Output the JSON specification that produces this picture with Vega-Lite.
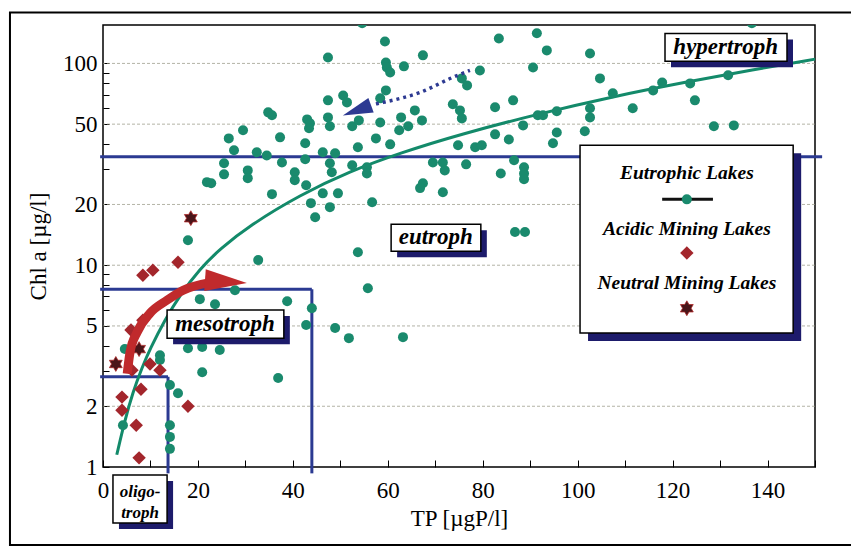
{
  "$schema": "https://vega.github.io/schema/vega-lite/v6.json",
  "width": 712,
  "height": 442,
  "autosize": {"type": "none"},
  "padding": {"left": 103, "top": 25, "right": 36, "bottom": 81},
  "background": "white",
  "config": {
    "view": {"stroke": "black", "strokeWidth": 1.5},
    "font": "Liberation Serif",
    "axis": {"domain": false, "grid": false, "labelFont": "Liberation Serif", "titleFont": "Liberation Serif", "labelColor": "black", "titleColor": "black", "titleFontWeight": "normal", "tickColor": "black", "labelOverlap": false, "labelFlush": false},
    "axisX": {"values": [0,10,20,30,40,50,60,70,80,90,100,110,120,130,140,150], "labelExpr": "datum.value % 20 == 0 && datum.value <= 140 ? datum.label : ''", "tickSize": -7, "labelFontSize": 23, "titleFontSize": 23, "labelPadding": 19, "titlePadding": 5},
    "axisY": {"values": [1,2,3,4,5,6,7,8,9,10,20,30,40,50,60,70,80,90,100], "format": "~g", "labelExpr": "indexof([1,2,5,10,20,50,100], datum.value) >= 0 ? datum.label : ''", "tickSize": -6, "labelFontSize": 23, "titleFontSize": 23, "labelPadding": 12, "titlePadding": 12}
  },
  "datasets": {
    "grid": [{"chl": 2}, {"chl": 5}, {"chl": 10}, {"chl": 20}, {"chl": 50}, {"chl": 100}],
    "outer": [{"tp": -19.6, "tp2": 162, "chl": 179, "chl2": 0.411}],
    "bluelines": [
      {"tp": -0.6, "tp2": 151.5, "chl": 34.5, "chl2": 34.5},
      {"tp": -0.6, "tp2": 44, "chl": 7.6, "chl2": 7.6},
      {"tp": 44, "tp2": 44, "chl": 0.93, "chl2": 7.6},
      {"tp": -0.6, "tp2": 13.7, "chl": 2.8, "chl2": 2.8},
      {"tp": 13.7, "tp2": 13.7, "chl": 0.93, "chl2": 2.8}
    ],
    "green": [
      {"tp": 34.8, "chl": 57.2}, {"tp": 35.6, "chl": 55.3}, {"tp": 29.5, "chl": 46.6}, {"tp": 26.5, "chl": 42.5},
      {"tp": 27.6, "chl": 37.1}, {"tp": 32.4, "chl": 36.3}, {"tp": 34.5, "chl": 35.0}, {"tp": 37.3, "chl": 43.0},
      {"tp": 25.5, "chl": 32.0}, {"tp": 25.5, "chl": 28.2}, {"tp": 30.5, "chl": 29.5}, {"tp": 30.5, "chl": 27.0},
      {"tp": 21.9, "chl": 25.8}, {"tp": 22.8, "chl": 25.5}, {"tp": 35.6, "chl": 22.5}, {"tp": 17.9, "chl": 13.3},
      {"tp": 54.6, "chl": 158}, {"tp": 59.4, "chl": 128.5}, {"tp": 47.4, "chl": 107}, {"tp": 67.4, "chl": 109.6},
      {"tp": 59.6, "chl": 101}, {"tp": 59.8, "chl": 95.5}, {"tp": 60.5, "chl": 90.2}, {"tp": 63.4, "chl": 96.7},
      {"tp": 47.4, "chl": 65.6}, {"tp": 50.6, "chl": 69.4}, {"tp": 51.4, "chl": 64.1}, {"tp": 59.6, "chl": 73.5},
      {"tp": 58.4, "chl": 67.1}, {"tp": 43.0, "chl": 52.8}, {"tp": 43.6, "chl": 50.5}, {"tp": 43.4, "chl": 47.7},
      {"tp": 47.4, "chl": 54.0}, {"tp": 47.8, "chl": 48.8}, {"tp": 52.5, "chl": 48.8}, {"tp": 53.9, "chl": 52.2},
      {"tp": 58.4, "chl": 51.0}, {"tp": 62.8, "chl": 54.0}, {"tp": 62.4, "chl": 46.6}, {"tp": 65.7, "chl": 58.5},
      {"tp": 64.3, "chl": 48.8}, {"tp": 67.2, "chl": 52.2}, {"tp": 73.7, "chl": 62.7}, {"tp": 42.6, "chl": 40.2},
      {"tp": 57.5, "chl": 42.5}, {"tp": 53.7, "chl": 38.4}, {"tp": 60.5, "chl": 39.7}, {"tp": 46.3, "chl": 36.3},
      {"tp": 48.9, "chl": 35.9}, {"tp": 37.7, "chl": 32.3}, {"tp": 42.6, "chl": 33.5}, {"tp": 47.8, "chl": 32.0},
      {"tp": 48.2, "chl": 28.9}, {"tp": 52.5, "chl": 31.3}, {"tp": 55.6, "chl": 30.6}, {"tp": 55.6, "chl": 28.5},
      {"tp": 69.5, "chl": 32.3}, {"tp": 71.6, "chl": 32.3}, {"tp": 72.0, "chl": 29.5}, {"tp": 40.4, "chl": 28.9},
      {"tp": 40.4, "chl": 26.4}, {"tp": 42.8, "chl": 24.9}, {"tp": 67.4, "chl": 25.5}, {"tp": 66.8, "chl": 24.1},
      {"tp": 71.6, "chl": 23.0}, {"tp": 46.3, "chl": 22.7}, {"tp": 49.5, "chl": 22.7}, {"tp": 43.8, "chl": 20.3},
      {"tp": 47.8, "chl": 19.4}, {"tp": 56.7, "chl": 20.5}, {"tp": 44.7, "chl": 17.3}, {"tp": 74.8, "chl": 39.3},
      {"tp": 83.4, "chl": 133}, {"tp": 91.4, "chl": 141}, {"tp": 93.5, "chl": 116}, {"tp": 102.6, "chl": 112},
      {"tp": 79.4, "chl": 92.3}, {"tp": 90.6, "chl": 95.5}, {"tp": 104.7, "chl": 84.3}, {"tp": 75.6, "chl": 84.3},
      {"tp": 76.7, "chl": 77.8}, {"tp": 82.6, "chl": 60.6}, {"tp": 86.4, "chl": 65.6}, {"tp": 75.2, "chl": 58.5},
      {"tp": 75.6, "chl": 53.4}, {"tp": 91.6, "chl": 55.3}, {"tp": 92.7, "chl": 55.3}, {"tp": 95.6, "chl": 57.9},
      {"tp": 102.6, "chl": 59.9}, {"tp": 102.6, "chl": 54.0}, {"tp": 107.4, "chl": 71.1}, {"tp": 111.6, "chl": 59.9},
      {"tp": 88.5, "chl": 49.3}, {"tp": 82.6, "chl": 44.5}, {"tp": 85.5, "chl": 42.0}, {"tp": 95.6, "chl": 45.5},
      {"tp": 94.8, "chl": 40.2}, {"tp": 101.5, "chl": 46.1}, {"tp": 78.4, "chl": 38.4}, {"tp": 79.8, "chl": 39.3},
      {"tp": 76.5, "chl": 31.6}, {"tp": 86.6, "chl": 33.1}, {"tp": 88.7, "chl": 30.6}, {"tp": 88.7, "chl": 28.5},
      {"tp": 88.7, "chl": 26.7}, {"tp": 83.8, "chl": 28.5}, {"tp": 86.8, "chl": 14.6}, {"tp": 88.9, "chl": 14.6},
      {"tp": 136.7, "chl": 158}, {"tp": 115.9, "chl": 73.5}, {"tp": 117.8, "chl": 80.5}, {"tp": 123.7, "chl": 79.6},
      {"tp": 131.7, "chl": 87.3}, {"tp": 124.7, "chl": 65.6}, {"tp": 128.7, "chl": 48.8}, {"tp": 132.9, "chl": 49.3},
      {"tp": 32.7, "chl": 10.6}, {"tp": 27.8, "chl": 7.52}, {"tp": 20.4, "chl": 6.79}, {"tp": 23.6, "chl": 6.41},
      {"tp": 17.9, "chl": 3.88}, {"tp": 20.9, "chl": 3.93}, {"tp": 24.6, "chl": 3.80}, {"tp": 4.6, "chl": 3.84},
      {"tp": 12.0, "chl": 3.58}, {"tp": 12.0, "chl": 3.39}, {"tp": 20.9, "chl": 2.95}, {"tp": 36.9, "chl": 2.76},
      {"tp": 14.1, "chl": 2.55}, {"tp": 15.8, "chl": 2.32}, {"tp": 4.2, "chl": 1.61}, {"tp": 14.1, "chl": 1.61},
      {"tp": 14.1, "chl": 1.41}, {"tp": 14.1, "chl": 1.23}, {"tp": 53.7, "chl": 11.6}, {"tp": 55.8, "chl": 7.69},
      {"tp": 38.8, "chl": 6.63}, {"tp": 44.0, "chl": 6.12}, {"tp": 42.8, "chl": 5.05}, {"tp": 48.9, "chl": 4.88},
      {"tp": 51.8, "chl": 4.35}, {"tp": 63.2, "chl": 4.40}
    ],
    "acidic": [
      {"tp": 8.4, "chl": 8.92}, {"tp": 10.5, "chl": 9.45}, {"tp": 15.8, "chl": 10.35}, {"tp": 8.4, "chl": 5.34},
      {"tp": 5.9, "chl": 4.77}, {"tp": 9.9, "chl": 3.24}, {"tp": 12.0, "chl": 3.02}, {"tp": 6.1, "chl": 3.02},
      {"tp": 8.0, "chl": 2.43}, {"tp": 4.0, "chl": 2.22}, {"tp": 4.0, "chl": 1.91}, {"tp": 17.9, "chl": 2.0},
      {"tp": 7.0, "chl": 1.61}, {"tp": 7.6, "chl": 1.11}
    ],
    "neutral": [
      {"tp": 18.5, "chl": 17.1}, {"tp": 2.7, "chl": 3.24}, {"tp": 7.6, "chl": 3.84}
    ],
    "curve": [
      {"tp": 2.9, "chl": 1.15}, {"tp": 4.6, "chl": 1.7}, {"tp": 6.3, "chl": 2.35}, {"tp": 8.2, "chl": 3.1},
      {"tp": 9.9, "chl": 3.85}, {"tp": 13.1, "chl": 5.4}, {"tp": 16.2, "chl": 7.1}, {"tp": 20.4, "chl": 9.6},
      {"tp": 24.6, "chl": 12.0}, {"tp": 31.0, "chl": 15.8}, {"tp": 41.5, "chl": 22.3}, {"tp": 52.0, "chl": 29.2},
      {"tp": 62.6, "chl": 36.0}, {"tp": 75.2, "chl": 44.5}, {"tp": 92.1, "chl": 56.5}, {"tp": 107.4, "chl": 68.5},
      {"tp": 123.0, "chl": 81.0}, {"tp": 136.9, "chl": 93.0}, {"tp": 150, "chl": 105}
    ],
    "redarrow": [
      {"tp": 5.1, "chl": 2.9}, {"tp": 5.7, "chl": 3.71}, {"tp": 7.2, "chl": 4.66}, {"tp": 9.9, "chl": 5.78},
      {"tp": 13.5, "chl": 6.71}, {"tp": 16.9, "chl": 7.52}, {"tp": 22.5, "chl": 8.2}
    ],
    "bluearrow": [
      {"tp": 57.5, "chl": 63.0}, {"tp": 59.0, "chl": 64.1}, {"tp": 66.8, "chl": 71.8}, {"tp": 73.7, "chl": 85.3}, {"tp": 77.3, "chl": 92.3}
    ],
    "redhead": [{"tp": 25.9, "chl": 8.3}],
    "bluehead": [{"tp": 53.5, "chl": 58.5}],
    "boxes": [
      {"kind": "label", "tp": 118.4, "tp2": 144.1, "chl": 140.8, "chl2": 102.4},
      {"kind": "label", "tp": 60.7, "tp2": 79.6, "chl": 15.96, "chl2": 11.73},
      {"kind": "label", "tp": 13.5, "tp2": 38.1, "chl": 5.99, "chl2": 4.35},
      {"kind": "label", "tp": 2.1, "tp2": 13.5, "chl": 0.913, "chl2": 0.528},
      {"kind": "legend", "tp": 100.5, "tp2": 145.4, "chl": 39.3, "chl2": 4.61}
    ],
    "texts": [
      {"kind": "zone", "tp": 131.2, "chl": 120, "text": "hypertroph"},
      {"kind": "zone", "tp": 70.1, "chl": 13.8, "text": "eutroph"},
      {"kind": "zone", "tp": 25.7, "chl": 5.1, "text": "mesotroph"},
      {"kind": "small", "tp": 7.8, "chl": 0.752, "text": "oligo-"},
      {"kind": "small", "tp": 7.8, "chl": 0.592, "text": "troph"},
      {"kind": "legend", "tp": 123.0, "chl": 28.5, "text": "Eutrophic Lakes"},
      {"kind": "legend", "tp": 123.0, "chl": 15.1, "text": "Acidic Mining Lakes"},
      {"kind": "legend", "tp": 123.0, "chl": 8.15, "text": "Neutral Mining Lakes"}
    ],
    "legline": [{"tp": 117.8, "chl": 21.2}, {"tp": 128.5, "chl": 21.2}],
    "leggreen": [{"tp": 123.0, "chl": 21.2}],
    "legacidic": [{"tp": 123.0, "chl": 11.5}],
    "legneutral": [{"tp": 123.0, "chl": 6.12}]
  },
  "encoding": {
    "x": {"field": "tp", "type": "quantitative", "title": "TP [µgP/l]", "scale": {"domain": [0, 150], "nice": false, "zero": false}},
    "y": {"field": "chl", "type": "quantitative", "title": "Chl a [µg/l]", "scale": {"type": "log", "domain": [1, 155], "nice": false}}
  },
  "layer": [
    {"data": {"name": "outer"}, "mark": {"type": "rect", "fill": null, "stroke": "black", "strokeWidth": 2, "clip": false},
     "encoding": {"x2": {"field": "tp2"}, "y2": {"field": "chl2"}}},
    {"data": {"name": "grid"}, "mark": {"type": "rule", "color": "#9a9a88", "strokeWidth": 1, "strokeDash": [3, 2], "opacity": 0.75},
     "encoding": {"x": null}},
    {"data": {"name": "bluelines"}, "mark": {"type": "rule", "color": "#2b3a92", "strokeWidth": 3, "clip": false},
     "encoding": {"x2": {"field": "tp2"}, "y2": {"field": "chl2"}}},
    {"data": {"name": "curve"}, "mark": {"type": "line", "color": "#138a6a", "strokeWidth": 3, "interpolate": "basis"}, "encoding": {}},
    {"data": {"name": "green"}, "mark": {"type": "point", "shape": "circle", "filled": true, "color": "#1a8a6d", "size": 100, "opacity": 1, "clip": true}, "encoding": {}},
    {"data": {"name": "acidic"}, "mark": {"type": "point", "shape": "diamond", "filled": true, "color": "#a3262c", "size": 180, "opacity": 1}, "encoding": {}},
    {"data": {"name": "neutral"}, "mark": {"type": "point", "shape": "M0,-1L0.289,-0.5L0.866,-0.5L0.577,0L0.866,0.5L0.289,0.5L0,1L-0.289,0.5L-0.866,0.5L-0.577,0L-0.866,-0.5L-0.289,-0.5Z", "filled": true, "color": "#4a1519", "stroke": "#b02a2a", "strokeWidth": 0.8, "size": 220, "opacity": 1}, "encoding": {}},
    {"data": {"name": "redarrow"}, "mark": {"type": "line", "color": "#c02a2c", "strokeWidth": 9, "interpolate": "monotone", "strokeCap": "butt"}, "encoding": {}},
    {"data": {"name": "redhead"}, "mark": {"type": "point", "shape": "M-1,-0.52L1,0L-1,0.52Z", "filled": true, "color": "#c02a2c", "size": 1764, "angle": 4, "opacity": 1}, "encoding": {}},
    {"data": {"name": "bluearrow"}, "mark": {"type": "line", "color": "#2d3a92", "strokeWidth": 3.5, "strokeDash": [3, 4], "interpolate": "monotone"}, "encoding": {}},
    {"data": {"name": "bluehead"}, "mark": {"type": "point", "shape": "M-1,-0.52L1,0L-1,0.52Z", "filled": true, "color": "#2d3a92", "size": 900, "angle": 160, "opacity": 1}, "encoding": {}},
    {"data": {"name": "boxes"}, "transform": [{"filter": "datum.kind == 'label'"}], "mark": {"type": "rect", "color": "#1d1b6b", "xOffset": 6, "x2Offset": 6, "yOffset": 6, "y2Offset": 6, "clip": false},
     "encoding": {"x2": {"field": "tp2"}, "y2": {"field": "chl2"}}},
    {"data": {"name": "boxes"}, "transform": [{"filter": "datum.kind == 'legend'"}], "mark": {"type": "rect", "color": "#1d1b6b", "xOffset": 8, "x2Offset": 8, "yOffset": 8, "y2Offset": 8, "clip": false},
     "encoding": {"x2": {"field": "tp2"}, "y2": {"field": "chl2"}}},
    {"data": {"name": "boxes"}, "mark": {"type": "rect", "fill": "white", "stroke": "black", "strokeWidth": 1.5, "clip": false},
     "encoding": {"x2": {"field": "tp2"}, "y2": {"field": "chl2"}}},
    {"data": {"name": "texts"}, "transform": [{"filter": "datum.kind == 'zone'"}], "mark": {"type": "text", "font": "Liberation Serif", "fontStyle": "italic", "fontWeight": "bold", "fontSize": 23, "color": "black", "baseline": "middle", "align": "center"},
     "encoding": {"text": {"field": "text"}}},
    {"data": {"name": "texts"}, "transform": [{"filter": "datum.kind == 'small'"}], "mark": {"type": "text", "font": "Liberation Serif", "fontStyle": "italic", "fontWeight": "bold", "fontSize": 17, "color": "black", "baseline": "middle", "align": "center", "clip": false},
     "encoding": {"text": {"field": "text"}}},
    {"data": {"name": "texts"}, "transform": [{"filter": "datum.kind == 'legend'"}], "mark": {"type": "text", "font": "Liberation Serif", "fontStyle": "italic", "fontWeight": "bold", "fontSize": 19.5, "color": "black", "baseline": "middle", "align": "center"},
     "encoding": {"text": {"field": "text"}}},
    {"data": {"name": "legline"}, "mark": {"type": "line", "color": "#111", "strokeWidth": 3}, "encoding": {}},
    {"data": {"name": "leggreen"}, "mark": {"type": "point", "shape": "circle", "filled": true, "color": "#1a8a6d", "size": 100, "opacity": 1}, "encoding": {}},
    {"data": {"name": "legacidic"}, "mark": {"type": "point", "shape": "diamond", "filled": true, "color": "#a3262c", "size": 180, "opacity": 1}, "encoding": {}},
    {"data": {"name": "legneutral"}, "mark": {"type": "point", "shape": "M0,-1L0.289,-0.5L0.866,-0.5L0.577,0L0.866,0.5L0.289,0.5L0,1L-0.289,0.5L-0.866,0.5L-0.577,0L-0.866,-0.5L-0.289,-0.5Z", "filled": true, "color": "#4a1519", "stroke": "#b02a2a", "strokeWidth": 0.8, "size": 220, "opacity": 1}, "encoding": {}}
  ]
}
